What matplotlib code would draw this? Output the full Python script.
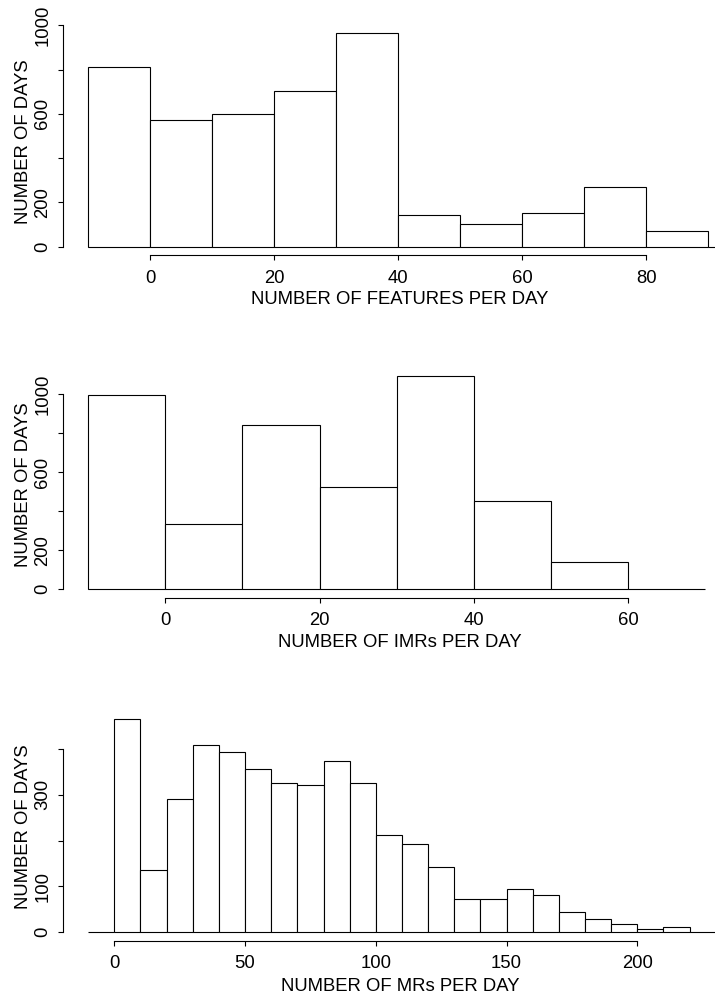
import numpy as np
import matplotlib
matplotlib.use("Agg")
import matplotlib.pyplot as plt

plt.rcParams['font.family'] = ['Liberation Sans', 'DejaVu Sans']

# histogram bins (left edges ... right edge) and counts
feat_edges = np.arange(-10, 101, 10)
feat_counts = [810, 572, 599, 703, 964, 143, 101, 151, 267, 68, 0]
feat_xticks = [0, 20, 40, 60, 80]
feat_yticks = [0, 200, 400, 600, 800, 1000]
feat_ylabels = ['0', '200', '', '600', '', '1000']

imr_edges = np.arange(-10, 71, 10)
imr_counts = [995, 333, 843, 526, 1095, 454, 138, 3]
imr_xticks = [0, 20, 40, 60]
imr_yticks = [0, 200, 400, 600, 800, 1000]
imr_ylabels = ['0', '200', '', '600', '', '1000']

mr_edges = np.arange(-10, 231, 10)
mr_counts = [0, 467, 136, 292, 410, 394, 357, 325, 322, 375, 325, 211,
             193, 143, 72, 72, 94, 81, 44, 29, 18, 7, 11, 0]
mr_xticks = [0, 50, 100, 150, 200]
mr_yticks = [0, 100, 200, 300, 400]
mr_ylabels = ['0', '100', '', '300', '']

W, H = 715, 997
fig = plt.figure(figsize=(W / 100, H / 100), dpi=100)
FS = 13.3
LW = 0.8


def panel(edges, counts, xticks, yticks, ylabels, xlabel,
          x0, xs, y0, ys, axis_y, top, ylab_y, xlab_y):
    # pixel layout -> axes box and data limits
    left, right = 63.3, W
    ax = fig.add_axes([left / W, 1 - axis_y / H, (right - left) / W, (axis_y - top) / H])
    ax.set_xlim((left - x0) / xs, (right - x0) / xs)
    ax.set_ylim(-(axis_y - y0) / ys, (y0 - top) / ys)
    ax.bar(edges[:-1], counts, width=np.diff(edges), align='edge',
           facecolor='white', edgecolor='black', linewidth=LW, clip_on=True)
    for s in ['top', 'right']:
        ax.spines[s].set_visible(False)
    ax.spines['left'].set_bounds(yticks[0], yticks[-1])
    ax.spines['bottom'].set_bounds(xticks[0], xticks[-1])
    for s in ['left', 'bottom']:
        ax.spines[s].set_linewidth(LW)
    ax.set_xticks(xticks)
    ax.set_yticks(yticks)
    ax.set_yticklabels(ylabels, rotation=90, va='center')
    ax.tick_params(direction='out', length=3.6, width=LW, labelsize=FS)
    ax.tick_params(axis='x', pad=7)
    ax.tick_params(axis='y', pad=5)
    ax.set_xlabel(xlabel, fontsize=FS)
    ax.set_ylabel('NUMBER OF DAYS', fontsize=FS)
    ax.xaxis.set_label_coords((400 - left) / (right - left), (axis_y - xlab_y) / (axis_y - top), transform=ax.transAxes)
    ax.xaxis.label.set_va('center')
    ax.yaxis.set_label_coords((23.3 - left) / (right - left), (axis_y - ylab_y) / (axis_y - top), transform=ax.transAxes)
    ax.yaxis.label.set_va('center')
    return ax


panel(feat_edges, feat_counts, feat_xticks, feat_yticks, feat_ylabels,
      'NUMBER OF FEATURES PER DAY', 150.3, 6.2, 246.5, 0.2212, 255.3, 15, 141.7, 300)
panel(imr_edges, imr_counts, imr_xticks, imr_yticks, imr_ylabels,
      'NUMBER OF IMRs PER DAY', 165.3, 7.717, 589.3, 0.195, 597.7, 360, 485, 642.5)
panel(mr_edges, mr_counts, mr_xticks, mr_yticks, mr_ylabels,
      'NUMBER OF MRs PER DAY', 114.3, 2.615, 931.8, 0.4565, 940.5, 705, 826.7, 986.7)

fig.savefig('out.png', dpi=100)
